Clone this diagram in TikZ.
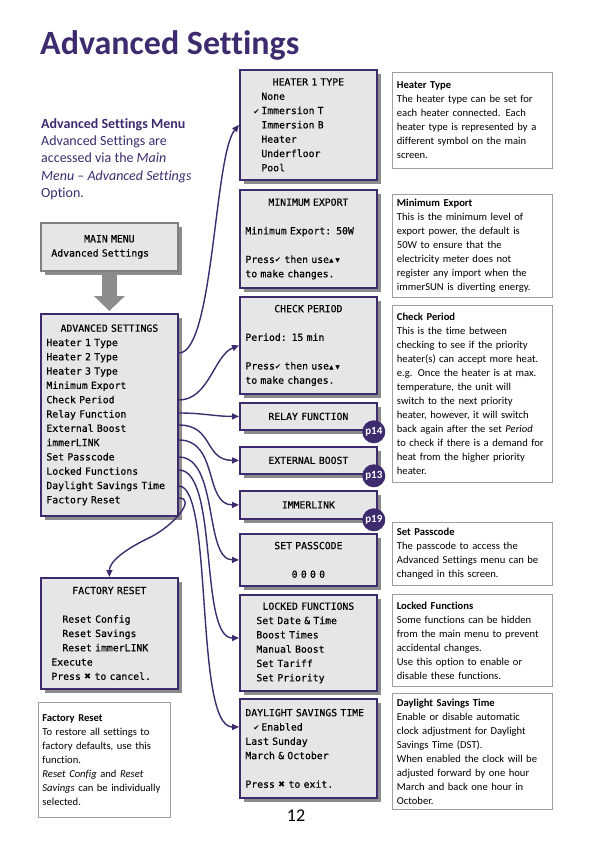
\documentclass[tikz,border=0pt]{standalone}
\usepackage{fontspec}
\setmainfont{Carlito}[Ligatures={TeX,NoCommon}]
\newfontfamily\lcdfont{DejaVu Sans Mono}[FakeBold=0.4]
\newfontfamily\glyphfont{DejaVu Sans}
\usetikzlibrary{arrows.meta,calc,shadows}
\setlength{\parindent}{0pt}

\definecolor{menupurple}{HTML}{3D2B6E}
\definecolor{lcdgrey}{HTML}{E6E6E6}
\definecolor{shadegrey}{HTML}{8C8C8C}

% key glyphs on the display
\newcommand{\tk}{{\glyphfont\fontsize{7.5}{7.5}\selectfont ✔}}
\newcommand{\upk}{{\glyphfont\fontsize{6}{6}\selectfont ▲}}
\newcommand{\dnk}{{\glyphfont\fontsize{6}{6}\selectfont ▼}}
\newcommand{\xk}{{\glyphfont\fontsize{8.5}{8.5}\selectfont ✖}}
\newcommand{\ctr}[1]{\makebox[\hsize][c]{#1}}

\begin{document}
\begin{tikzpicture}[x=1pt, y=-1pt,
    screen/.style={draw=menupurple, line width=1.8pt, fill=lcdgrey,
        drop shadow={shadow xshift=4pt, shadow yshift=-4pt, opacity=1, fill=shadegrey},
        font=\lcdfont\fontsize{9.8}{14.3}\selectfont, text width=126pt, inner xsep=5.5pt,
        inner ysep=0pt, align=left, anchor=north west, minimum height=#1},
    infobox/.style={draw=gray!75, line width=0.8pt, fill=white,
        font=\fontsize{10.6}{14}\selectfont, text width=151pt, inner xsep=4.5pt,
        inner ysep=0pt, align=left, anchor=north west, minimum height=#1},
    arrowlink/.style={draw=menupurple, line width=1.4pt, -{Triangle[length=7pt, width=6pt]}},
    badge/.style={circle, fill=menupurple, text=white, minimum size=23pt, inner sep=0pt,
        font=\fontsize{11}{11}\selectfont\bfseries}]

    \useasboundingbox (0,0) rectangle (595,842);

    % Heading
    \node[anchor=base west, inner sep=0pt, text=menupurple, font=\fontsize{34}{40}\selectfont\bfseries] (title) at (40,55) {Advanced Settings};
    \node[anchor=north west, inner sep=0pt, text=menupurple, align=left, font=\fontsize{14}{17.2}\selectfont] (intro) at (41,118.5) {\textbf{Advanced Settings Menu}\\
        Advanced Settings are\\
        accessed via the \textit{Main}\\
        \textit{Menu -- Advanced Settings}\\
        Option.};

    % Menus on the left
    \node[screen=48, draw=gray] (menu) at (40,222) {\ctr{MAIN MENU}\\
        \hspace*{5pt}Advanced Settings};
    \node[screen=202] (adv) at (40,313) {\ctr{ADVANCED SETTINGS}\\
        Heater 1 Type\\ Heater 2 Type\\ Heater 3 Type\\ Minimum Export\\
        Check Period\\ Relay Function\\ External Boost\\ immerLINK\\
        Set Passcode\\ Locked Functions\\ Daylight Savings Time\\ Factory Reset};
    \draw[shadegrey, line width=15pt, -{Triangle[length=15pt, width=30pt]}, shorten >=2pt] (menu.south) -- (adv.north);
    \node[screen=111] (reset) at (40,577) {\ctr{FACTORY RESET}\\ \mbox{}\\
        \hspace*{16pt}Reset Config\\
        \hspace*{16pt}Reset Savings\\
        \hspace*{16pt}Reset immerLINK\\
        \hspace*{5pt}Execute\\
        \hspace*{5pt}Press \xk\ to cancel.};

    % Screens
    \node[screen=110] (heat) at (239,69) {\ctr{HEATER 1 TYPE}\\
        \hspace*{16pt}None\\
        \makebox[16pt][r]{\tk\,}Immersion T\\
        \hspace*{16pt}Immersion B\\
        \hspace*{16pt}Heater\\
        \hspace*{16pt}Underfloor\\
        \hspace*{16pt}Pool};
    \node[screen=98] (export) at (239,189) {\ctr{MINIMUM EXPORT}\\ \mbox{}\\
        Minimum Export: 50W\\ \mbox{}\\
        Press\tk\ then use\upk\,\dnk\\
        to make changes.};
    \node[screen=97] (check) at (239,296) {\ctr{CHECK PERIOD}\\ \mbox{}\\
        Period: 15 min\\ \mbox{}\\
        Press\tk\ then use\upk\,\dnk\\
        to make changes.};
    \node[screen=27] (relay) at (239,402) {\ctr{RELAY FUNCTION}};
    \node[screen=27] (boost) at (239,446) {\ctr{EXTERNAL BOOST}};
    \node[screen=28] (immer) at (239,490) {\ctr{IMMERLINK}};
    \node[screen=52] (pass) at (239,533) {\ctr{SET PASSCODE}\\ \mbox{}\\ \ctr{0 0 0 0}};
    \node[screen=96] (lock) at (239,594) {\ctr{LOCKED FUNCTIONS}\\
        \hspace*{11pt}Set Date \& Time\\
        \hspace*{11pt}Boost Times\\
        \hspace*{11pt}Manual Boost\\
        \hspace*{11pt}Set Tariff\\
        \hspace*{11pt}Set Priority};
    \node[screen=99] (dst) at (239,698) {DAYLIGHT SAVINGS TIME\\
        \makebox[16pt][r]{\tk\,}Enabled\\
        Last Sunday\\
        March \& October\\ \mbox{}\\
        Press \xk\ to exit.};

    % Page badges
    \node[badge] (p14) at ($(relay.south east)+(-4,1)$) {p14};
    \node[badge] (p13) at ($(boost.south east)+(-4,1)$) {p13};
    \node[badge] (p19) at ($(immer.south east)+(-4,0)$) {p19};

    % Notes on the right
    \node[infobox=96] (heatinfo) at (392,72) {\textbf{Heater Type}\\
        The heater type can be set for\\
        each heater connected. Each\\
        heater type is represented by a\\
        different symbol on the main\\
        screen.};
    \node[infobox=103] (exportinfo) at (392,194) {\textbf{Minimum Export}\\
        This is the minimum level of\\
        export power, the default is\\
        50W to ensure that the\\
        electricity meter does not\\
        register any import when the\\
        immerSUN is diverting energy.};
    \node[infobox=177] (checkinfo) at (392,305) {\textbf{Check Period}\\
        This is the time between\\
        checking to see if the priority\\
        heater(s) can accept more heat.\\
        e.g. Once the heater is at max.\\
        temperature, the unit will\\
        switch to the next priority\\
        heater, however, it will switch\\
        back again after the set \textit{Period}\\
        to check if there is a demand for\\
        heat from the higher priority\\
        heater.};
    \node[infobox=63] (passinfo) at (392,522) {\textbf{Set Passcode}\\
        The passcode to access the\\
        Advanced Settings menu can be\\
        changed in this screen.};
    \node[infobox=92] (lockinfo) at (392,594) {\textbf{Locked Functions}\\
        Some functions can be hidden\\
        from the main menu to prevent\\
        accidental changes.\\
        Use this option to enable or\\
        disable these functions.};
    \node[infobox=116] (dstinfo) at (392,693) {\textbf{Daylight Savings Time}\\
        Enable or disable automatic\\
        clock adjustment for Daylight\\
        Savings Time (DST).\\
        When enabled the clock will be\\
        adjusted forward by one hour\\
        March and back one hour in\\
        October.};
    \node[infobox=115, text width=124pt, inner xsep=4pt] (resetinfo) at (38,702) {\textbf{Factory Reset}\\
        To restore all settings to\\
        factory defaults, use this\\
        function.\\
        \textit{Reset Config} and \textit{Reset}\\
        \textit{Savings} can be individually\\
        selected.};

    % Links from the menu
    \foreach \n/\d in {heat/40, check/87, relay/100, boost/112, immer/127, pass/144, lock/157, dst/173, reset/185}
        \coordinate (s-\n) at ($(adv.north east)+(0,\d)$);

    \draw[arrowlink] (s-heat) .. controls +(35,0) and +(-25,30) .. (heat.west);
    \draw[arrowlink] (s-check) .. controls +(30,0) and +(-25,10) .. (check.west);
    \draw[arrowlink] (s-relay) .. controls +(25,0) and +(-25,0) .. (relay.west);
    \draw[arrowlink] (s-boost) .. controls +(35,0) and +(-35,0) .. (boost.west);
    \draw[arrowlink] (s-immer) .. controls +(40,0) and +(-35,0) .. (immer.west);
    \draw[arrowlink] (s-pass) .. controls +(40,0) and +(-35,0) .. (pass.west);
    \draw[arrowlink] (s-lock) .. controls +(40,0) and +(-40,0) .. ($(lock.north west)+(0,44)$);
    \draw[arrowlink] (s-dst) .. controls +(35,0) and +(-45,0) .. ($(dst.north west)+(0,29)$);
    \draw[arrowlink] (s-reset) .. controls +(18,0) and +(25,-12) .. ($(s-reset)+(-30,40)$) .. controls +(-25,12) and +(0,-15) .. (reset.north);

    % Page number
    \node[anchor=base, inner sep=0pt, font=\fontsize{18}{20}\selectfont] (page) at (296,821) {12};
\end{tikzpicture}
\end{document}
